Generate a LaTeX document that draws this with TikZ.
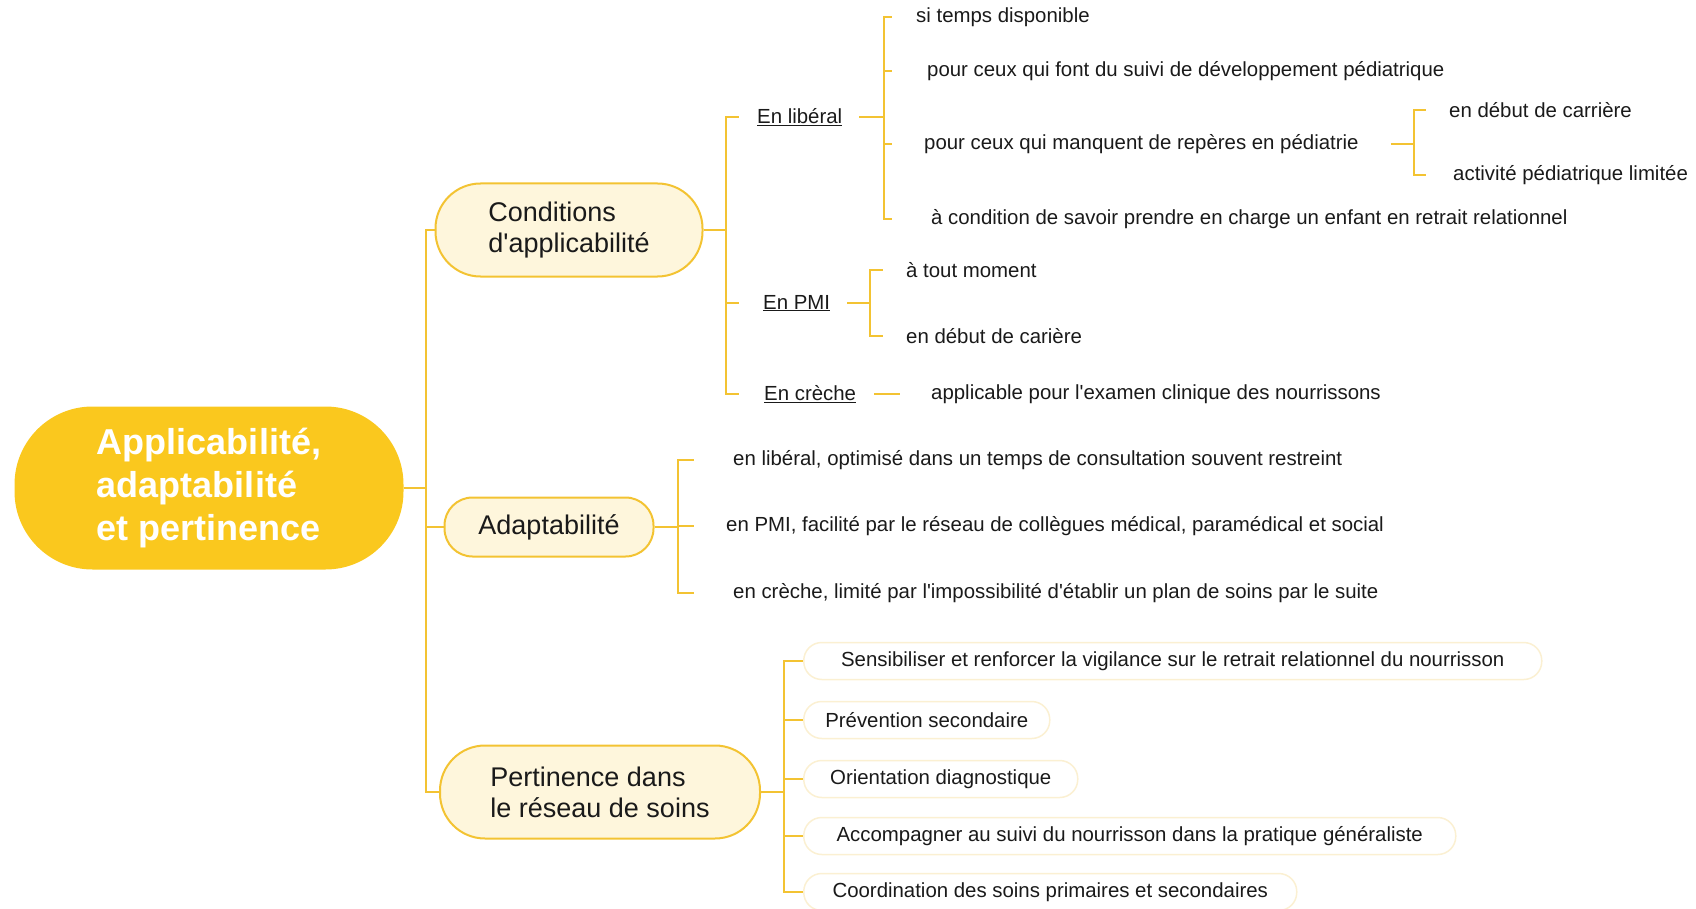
\documentclass[tikz,border=0pt]{standalone}
\usepackage{fontspec}
\setmainfont{Liberation Sans}
\definecolor{gold}{HTML}{FAC81E}
\definecolor{linec}{HTML}{F3C332}
\definecolor{cream}{HTML}{FEF6DC}
\definecolor{faint}{HTML}{FBF0D2}
\definecolor{txt}{HTML}{1A1A1A}
\newcommand{\q}{\textquotesingle}
\tikzset{
  conn/.style={draw=linec, line width=2pt},
  rootbox/.style={fill=gold, draw=none, rounded corners=78pt, minimum width=389pt, minimum height=163pt,
    inner sep=0pt, align=left, text=white, font=\fontsize{36}{43}\selectfont\bfseries},
  mainbox/.style={fill=cream, draw=linec, line width=2pt, inner sep=0pt,
    align=left, text=txt, font=\fontsize{27}{31}\selectfont},
  leaf/.style={anchor=west, inner sep=0pt, text=txt, font=\fontsize{20.4}{24}\selectfont},
  pbox/.style={anchor=west, draw=faint, line width=1.5pt, fill=white, rounded corners=18pt, inner sep=0pt,
    minimum height=37pt, text=txt, font=\fontsize{20.4}{24}\selectfont},
}
\begin{document}
\begin{tikzpicture}[x=1pt,y=-1pt]
\useasboundingbox (0,0) rectangle (1696,909);
% main nodes
\node[rootbox] (root) at (209,488) {Applicabilité,\\adaptabilité\\et pertinence};
\node[mainbox, rounded corners=45pt, minimum width=267pt, minimum height=93pt] (cond) at (569,230) {Conditions\\d\q applicabilité};
\node[mainbox, rounded corners=28pt, minimum width=209pt, minimum height=59pt] (adapt) at (549,527) {Adaptabilité};
\node[mainbox, rounded corners=45pt, minimum width=320pt, minimum height=93pt] (pert) at (600,792) {Pertinence dans\\le réseau de soins};
% conditions children
\node[leaf] (lib) at (757,117) {\underline{En libéral}};
\node[leaf] (pmi) at (763,303) {\underline{En PMI}};
\node[leaf] (cre) at (764,394) {\underline{En crèche}};
% liberal children
\node[leaf] (sit) at (916,17) {si temps disponible};
\node[leaf] (sui) at (927,71) {pour ceux qui font du suivi de développement pédiatrique};
\node[leaf] (man) at (924,144) {pour ceux qui manquent de repères en pédiatrie};
\node[leaf] (acd) at (931,219) {à condition de savoir prendre en charge un enfant en retrait relationnel};
\node[leaf] (dc1) at (1449,110) {en début de carrière};
\node[leaf] (act) at (1453,175) {activité pédiatrique limitée};
% pmi children
\node[leaf] (tou) at (906,270) {à tout moment};
\node[leaf] (dc2) at (906,336) {en début de carière};
% creche child
\node[leaf] (app) at (931,394) {applicable pour l\q examen clinique des nourrissons};
% adaptabilite children
\node[leaf] (a1) at (733,460) {en libéral, optimisé dans un temps de consultation souvent restreint};
\node[leaf] (a2) at (726,526) {en PMI, facilité par le réseau de collègues médical, paramédical et social};
\node[leaf] (a3) at (733,593) {en crèche, limité par l\q impossibilité d\q établir un plan de soins par le suite};
% pertinence children
\node[pbox, minimum width=738pt] (p1) at (803,661) {Sensibiliser et renforcer la vigilance sur le retrait relationnel du nourrisson};
\node[pbox, minimum width=246pt] (p2) at (803,720) {Prévention secondaire};
\node[pbox, minimum width=274pt] (p3) at (803,779) {Orientation diagnostique};
\node[pbox, minimum width=652pt] (p4) at (803,836) {Accompagner au suivi du nourrisson dans la pratique généraliste};
\node[pbox, minimum width=493pt] (p5) at (803,892) {Coordination des soins primaires et secondaires};
% connectors: root
\draw[conn] (root.east) -- ++(22,0) |- (cond.west);
\draw[conn] (root.east) -- ++(22,0) |- (adapt.west);
\draw[conn] (root.east) -- ++(22,0) |- (pert.west);
% conditions
\draw[conn] (cond.east) -- ++(22,0) |- ([xshift=-18pt]lib.west);
\draw[conn] (cond.east) -- ++(22,0) |- ([xshift=-24pt]pmi.west);
\draw[conn] (cond.east) -- ++(22,0) |- ([xshift=-25pt]cre.west);
% liberal
\draw[conn] ([xshift=17pt]lib.east) -- ++(25,0) |- ([xshift=-24pt]sit.west);
\draw[conn] ([xshift=17pt]lib.east) -- ++(25,0) |- ([xshift=-35pt]sui.west);
\draw[conn] ([xshift=17pt]lib.east) -- ++(25,0) |- ([xshift=-32pt]man.west);
\draw[conn] ([xshift=17pt]lib.east) -- ++(25,0) |- ([xshift=-39pt]acd.west);
\draw[conn] ([xshift=32pt]man.east) -- ++(23,0) |- ([xshift=-23pt]dc1.west);
\draw[conn] ([xshift=32pt]man.east) -- ++(23,0) |- ([xshift=-27pt]act.west);
% pmi
\draw[conn] ([xshift=17pt]pmi.east) -- ++(23,0) |- ([xshift=-23pt]tou.west);
\draw[conn] ([xshift=17pt]pmi.east) -- ++(23,0) |- ([xshift=-23pt]dc2.west);
% creche
\draw[conn] ([xshift=18pt]cre.east) -- ([xshift=-31pt]app.west);
% adaptabilite
\draw[conn] (adapt.east) -- ++(23,0) |- ([xshift=-39pt]a1.west);
\draw[conn] (adapt.east) -- ++(23,0) |- ([xshift=-32pt]a2.west);
\draw[conn] (adapt.east) -- ++(23,0) |- ([xshift=-39pt]a3.west);
% pertinence
\foreach \n in {p1,p2,p3,p4,p5}{\draw[conn] (pert.east) -- ++(23,0) |- (\n.west);}
\end{tikzpicture}
\end{document}
